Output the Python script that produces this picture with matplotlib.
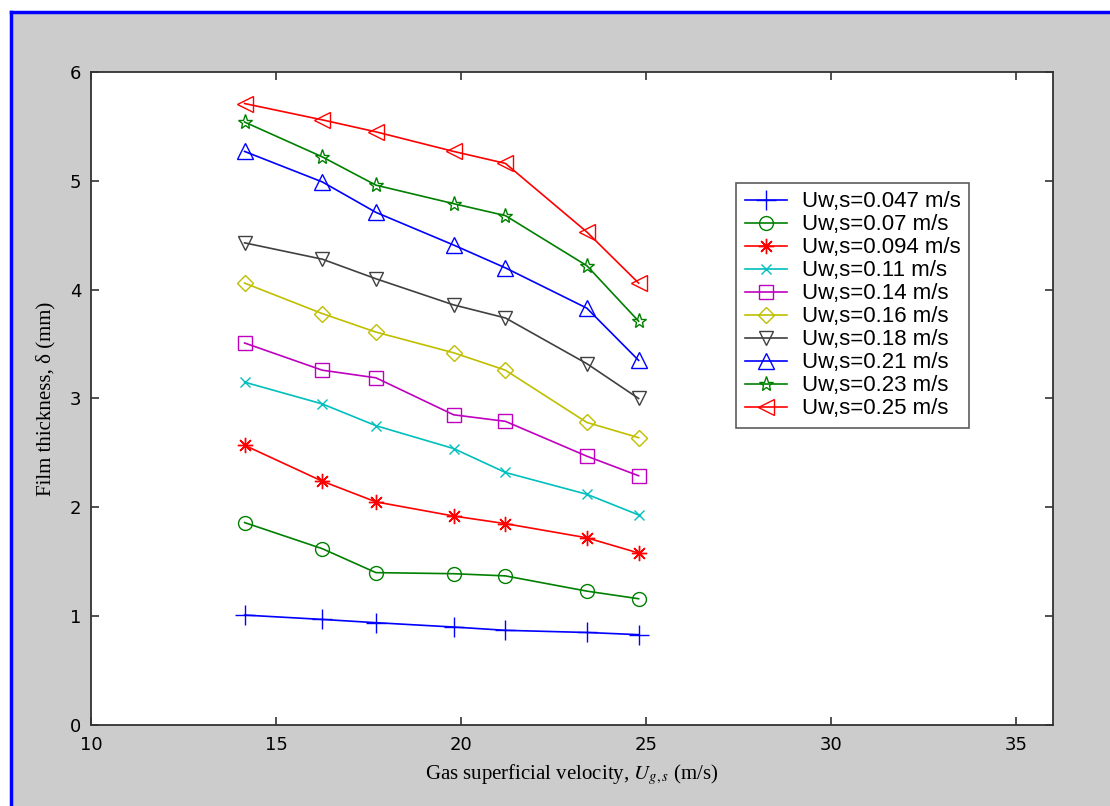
import matplotlib.pyplot as plt
from matplotlib.lines import Line2D
from matplotlib.patches import Rectangle

# gas superficial velocity (m/s)
ugs = [14.15, 16.25, 17.7, 19.8, 21.2, 23.4, 24.8]

# film thickness (mm) for each water superficial velocity
d_047 = [1.01, 0.97, 0.94, 0.90, 0.87, 0.85, 0.83]
d_07 = [1.86, 1.62, 1.40, 1.39, 1.37, 1.23, 1.16]
d_094 = [2.57, 2.24, 2.05, 1.92, 1.85, 1.72, 1.58]
d_11 = [3.15, 2.95, 2.75, 2.54, 2.32, 2.12, 1.93]
d_14 = [3.51, 3.26, 3.19, 2.85, 2.79, 2.47, 2.29]
d_16 = [4.06, 3.78, 3.61, 3.42, 3.26, 2.78, 2.64]
d_18 = [4.43, 4.28, 4.10, 3.86, 3.74, 3.32, 3.00]
d_21 = [5.27, 4.99, 4.71, 4.41, 4.20, 3.83, 3.35]
d_23 = [5.54, 5.22, 4.96, 4.79, 4.68, 4.22, 3.71]
d_25 = [5.71, 5.56, 5.45, 5.27, 5.16, 4.53, 4.06]

labels = ["Uw,s=0.047 m/s", "Uw,s=0.07 m/s", "Uw,s=0.094 m/s", "Uw,s=0.11 m/s",
          "Uw,s=0.14 m/s", "Uw,s=0.16 m/s", "Uw,s=0.18 m/s", "Uw,s=0.21 m/s",
          "Uw,s=0.23 m/s", "Uw,s=0.25 m/s"]
series = [d_047, d_07, d_094, d_11, d_14, d_16, d_18, d_21, d_23, d_25]

# matlab-ish styles
colors = ["#0000ff", "#008000", "#ff0000", "#00bfbf", "#bf00bf",
          "#bfbf00", "#404040", "#0000ff", "#008000", "#ff0000"]
markers = ["+", "o", (8, 2, 0), "x", "s", "D", "v", "^", "*", "<"]
msizes = [14, 10, 11, 7, 10, 8, 10, 11, 11, 11]

plt.rcParams['mathtext.fontset'] = 'stix'

fig = plt.figure(figsize=(11.1, 8.06), dpi=100, facecolor="white")
# gray panel with blue frame on top/left
fig.patches.append(Rectangle((11/1110, 0), 1, (806-12)/806, transform=fig.transFigure,
                             facecolor="#cccccc", edgecolor="none", zorder=-10))
fig.lines.append(Line2D([11/1110, 1], [(806-12)/806]*2, transform=fig.transFigure,
                        color="#0000ff", lw=2.5))
fig.lines.append(Line2D([11/1110]*2, [0, (806-12)/806], transform=fig.transFigure,
                        color="#0000ff", lw=2.5))

ax = fig.add_axes([0.082, 0.1005, 0.8667, 0.8102])
ax.set_facecolor("white")

for y, lab, c, m, ms in zip(series, labels, colors, markers, msizes):
    ax.plot(ugs, y, color=c, marker=m, markersize=ms, markerfacecolor="none",
            markeredgecolor=c, markeredgewidth=1.0, lw=1.2, label=lab)

ax.set_xlim(10, 36)
ax.set_ylim(0, 6)
ax.set_xticks([10, 15, 20, 25, 30, 35])
ax.set_yticks([0, 1, 2, 3, 4, 5, 6])
ax.tick_params(direction="in", top=True, right=True, length=6, labelsize=13,
               width=1.2, color="#333333")
ax.tick_params(axis="x", pad=8)
ax.tick_params(axis="y", pad=7)
for sp in ax.spines.values():
    sp.set_linewidth(1.3)
    sp.set_color("#333333")

ax.set_xlabel(r"Gas superficial velocity, $U_{g,s}$ (m/s)", fontsize=15,
              family="Liberation Serif", labelpad=6)
ax.set_ylabel("Film thickness, δ (mm)", fontsize=15, family="Liberation Serif",
              labelpad=10)

leg = ax.legend(loc="upper left", bbox_to_anchor=(0.6705, 0.83), borderaxespad=0,
                frameon=True, fancybox=False, edgecolor="#333333",
                handlelength=1.9, handletextpad=0.7, borderpad=0.38,
                labelspacing=0.09, prop={"family": "Liberation Sans", "size": 16})
leg.get_frame().set_linewidth(1.2)

fig.savefig("out.png", dpi=100, facecolor=fig.get_facecolor())
